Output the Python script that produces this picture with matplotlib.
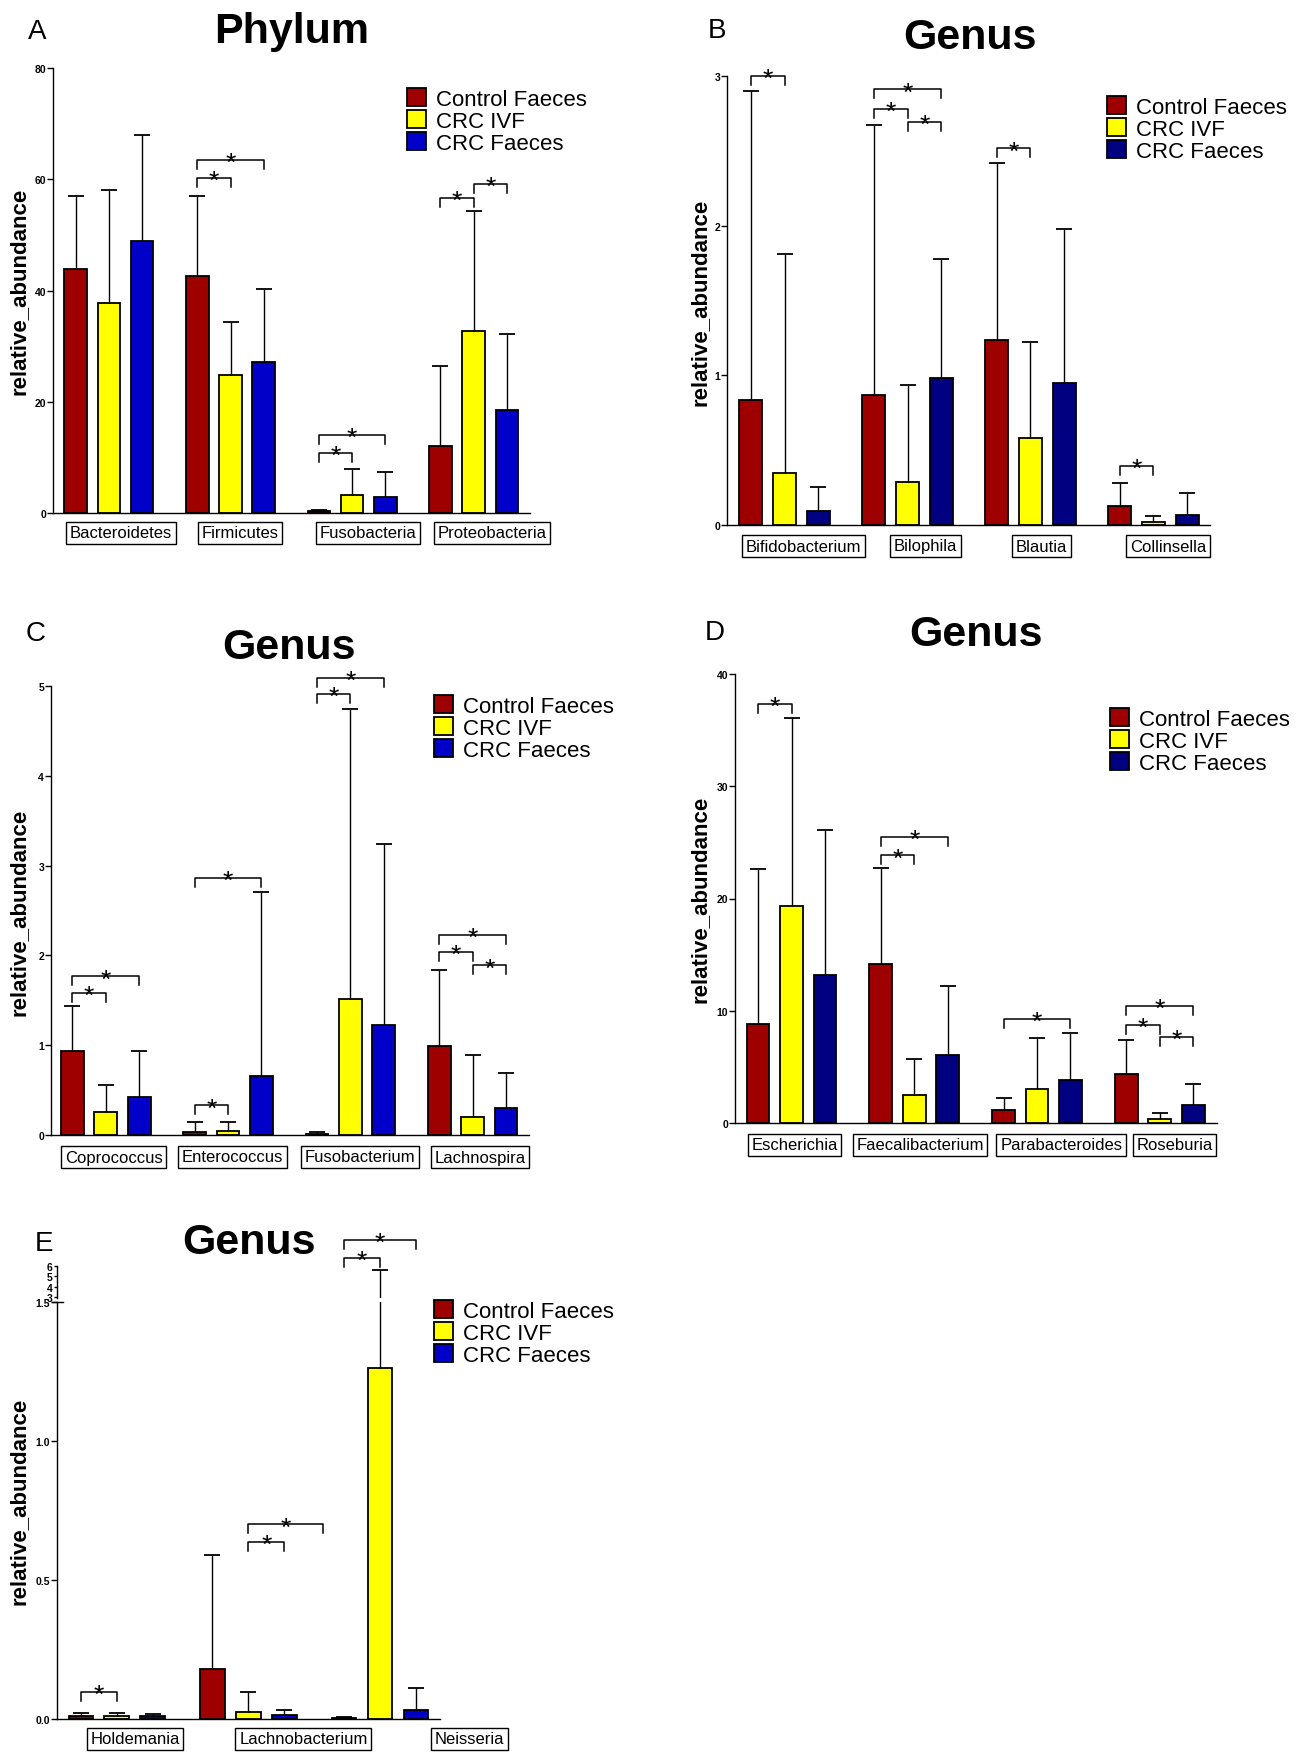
import matplotlib.pyplot as plt
import numpy as np
from matplotlib.lines import Line2D

plt.rcParams['font.family'] = ['Liberation Sans', 'DejaVu Sans']

series_names = ["Control Faeces", "CRC IVF", "CRC Faeces"]

# panel A - phylum (mean and SD)
phylum_cats = ["Bacteroidetes", "Firmicutes", "Fusobacteria", "Proteobacteria"]
phylum_ctrl = [43.8, 42.6, 0.3, 12.1]
phylum_ctrl_sd = [13.2, 14.4, 0.15, 14.4]
phylum_ivf = [37.7, 24.8, 3.2, 32.8]
phylum_ivf_sd = [20.4, 9.6, 4.8, 21.5]
phylum_crc = [48.9, 27.2, 2.8, 18.6]
phylum_crc_sd = [19.0, 13.0, 4.6, 13.6]
# (group, bar1, bar2, height)
phylum_sig = [(1, -1, 0, 60.3), (1, -1, 1, 63.5), (2, -1, 0, 10.8), (2, -1, 1, 14.0),
              (3, -1, 0, 56.6), (3, 0, 1, 59.1)]

# panel B
genus_b_cats = ["Bifidobacterium", "Bilophila", "Blautia", "Collinsella"]
genus_b_ctrl = [0.836, 0.868, 1.233, 0.126]
genus_b_ctrl_sd = [2.062, 1.806, 1.184, 0.156]
genus_b_ivf = [0.345, 0.289, 0.581, 0.022]
genus_b_ivf_sd = [1.464, 0.647, 0.644, 0.036]
genus_b_crc = [0.095, 0.985, 0.948, 0.07]
genus_b_crc_sd = [0.16, 0.795, 1.031, 0.146]
genus_b_sig = [(0, -1, 0, 3.0), (1, -1, 1, 2.91), (1, -1, 0, 2.78), (1, 0, 1, 2.694),
               (2, -1, 0, 2.516), (3, -1, 0, 0.394)]

# panel C
genus_c_cats = ["Coprococcus", "Enterococcus", "Fusobacterium", "Lachnospira"]
genus_c_ctrl = [0.94, 0.03, 0.012, 0.994]
genus_c_ctrl_sd = [0.496, 0.119, 0.021, 0.846]
genus_c_ivf = [0.26, 0.045, 1.51, 0.198]
genus_c_ivf_sd = [0.297, 0.095, 3.234, 0.693]
genus_c_crc = [0.425, 0.652, 1.221, 0.305]
genus_c_crc_sd = [0.507, 2.054, 2.022, 0.38]
genus_c_sig = [(0, -1, 0, 1.58), (0, -1, 1, 1.766), (1, -1, 0, 0.33), (1, -1, 1, 2.859),
               (2, -1, 0, 4.909), (2, -1, 1, 5.087), (3, -1, 0, 2.034), (3, -1, 1, 2.228),
               (3, 0, 1, 1.889)]

# panel D
genus_d_cats = ["Escherichia", "Faecalibacterium", "Parabacteroides", "Roseburia"]
genus_d_ctrl = [8.81, 14.19, 1.17, 4.34]
genus_d_ctrl_sd = [13.83, 8.51, 1.06, 3.01]
genus_d_ivf = [19.34, 2.46, 3.01, 0.32]
genus_d_ivf_sd = [16.77, 3.24, 4.57, 0.55]
genus_d_crc = [13.21, 6.09, 3.79, 1.62]
genus_d_crc_sd = [12.93, 6.12, 4.21, 1.88]
genus_d_sig = [(0, -1, 0, 37.31), (1, -1, 0, 23.84), (1, -1, 1, 25.49), (2, -1, 1, 9.3),
               (3, -1, 0, 8.74), (3, -1, 1, 10.43), (3, 0, 1, 7.68)]

# panel E (broken axis)
genus_e_cats = ["Holdemania", "Lachnobacterium", "Neisseria"]
genus_e_ctrl = [0.012, 0.181, 0.004]
genus_e_ctrl_sd = [0.009, 0.409, 0.002]
genus_e_ivf = [0.009, 0.025, 1.264]
genus_e_ivf_sd = [0.012, 0.072, 4.336]
genus_e_crc = [0.009, 0.015, 0.033]
genus_e_crc_sd = [0.008, 0.016, 0.078]
genus_e_sig_low = [(0, -1, 0, 0.0985), (1, 0, 1, 0.637), (1, 0, 2.07, 0.70)]
genus_e_sig_high = [(2, -1, 0, 6.75), (2, -1, 1, 8.5)]

RED = '#9E0000'
YELLOW = '#FFFF00'
BLUE = '#0000C8'
NAVY = '#000080'

W, H = 1305, 1756
fig = plt.figure(figsize=(W / 100, H / 100), dpi=100)


def px_rect(l, r, t, b):
    return [l / W, 1 - b / H, (r - l) / W, (b - t) / H]


def style_axis(ax, ticks, labels, tick_len=4):
    for s in ['top', 'right']:
        ax.spines[s].set_visible(False)
    ax.spines['left'].set_linewidth(1.0)
    ax.spines['bottom'].set_linewidth(1.0)
    ax.set_xticks([])
    ax.set_yticks(ticks)
    ax.set_yticklabels(labels, fontweight='bold', fontsize=7.5)
    ax.tick_params(axis='y', direction='out', length=tick_len, width=1, pad=1)


def draw_bars(ax, means, sds, colors, G):
    x0 = np.arange(len(means[0])) * G
    for k in range(3):
        x = x0 + (k - 1)
        ax.bar(x, means[k], width=0.68, color=colors[k], edgecolor='black',
               linewidth=1.3, label=series_names[k])
        eb = ax.errorbar(x, means[k], yerr=[np.zeros(len(x)), sds[k]], fmt='none',
                         ecolor='black', elinewidth=1.0, capsize=5.5, capthick=1.3)
        eb[1][0].set_visible(False)
    return x0


def bracket(ax, x1, x2, y):
    yp = ax.transData.transform([(0, y)])[0][1]
    y_low = ax.transData.inverted().transform([(0, yp - 9)])[0][1]
    ax.plot([x1, x1, x2, x2], [y_low, y, y, y_low], color='black', lw=1.1,
            clip_on=False, scalex=False, scaley=False)
    ax.annotate('*', xy=((x1 + x2) / 2, y), xytext=(0, -10), textcoords='offset pixels',
                ha='center', va='baseline', fontsize=19, annotation_clip=False)


def cat_labels(ax, x0, cats, shifts, off=20):
    for i, name in enumerate(cats):
        ax.annotate(name, xy=(x0[i] + shifts[i], 0), xycoords=('data', 'axes fraction'),
                    xytext=(0, -off), textcoords='offset pixels', ha='center', va='center',
                    fontsize=12, annotation_clip=False,
                    bbox=dict(boxstyle='square,pad=0.22', fc='white', ec='black', lw=1.0))


def legend(ax, lx, ly):
    ax.legend(loc='upper left', bbox_to_anchor=(lx / W, 1 - (ly - 11) / H),
              bbox_transform=fig.transFigure, frameon=False, fontsize=16,
              handlelength=0.86, handleheight=0.9, handletextpad=0.45,
              labelspacing=0.0, borderpad=0, borderaxespad=0)


def panel(rect, cats, means, sds, blue, G, a, b, ylim, ticks, labels, shifts, sig,
          leg_xy, off=20):
    ax = fig.add_axes(px_rect(*rect))
    x0 = draw_bars(ax, means, sds, [RED, YELLOW, blue], G)
    ax.set_xlim(-1 - a, x0[-1] + 1 + b)
    ax.set_ylim(*ylim)
    style_axis(ax, ticks, labels)
    for g, i1, i2, y in sig:
        bracket(ax, x0[g] + i1, x0[g] + i2, y)
    cat_labels(ax, x0, cats, shifts, off)
    legend(ax, *leg_xy)
    return ax


def texts(letter, lxy, title, txy, ylab_y, ylab_x):
    fig.text(lxy[0] / W, 1 - lxy[1] / H, letter, ha='center', va='center', fontsize=20)
    fig.text(txy[0] / W, 1 - txy[1] / H, title, ha='center', va='baseline',
             fontsize=31, fontweight='bold')
    fig.text(ylab_x / W, 1 - ylab_y / H, 'relative_abundance', rotation=90, ha='center',
             va='center', fontsize=16, fontweight='bold')


# A
panel((53, 530, 69, 514), phylum_cats,
      [phylum_ctrl, phylum_ivf, phylum_crc], [phylum_ctrl_sd, phylum_ivf_sd, phylum_crc_sd],
      BLUE, 3.655, 0.68, 0.69, (0, 80), [0, 20, 40, 60, 80], ['0', '20', '40', '60', '80'],
      [0.36, 0.28, 0.49, 0.54], phylum_sig, (407, 100))
texts('A', (37, 32), 'Phylum', (292, 43), 291, 19)

# B
panel((727, 1210, 77, 526), genus_b_cats,
      [genus_b_ctrl, genus_b_ivf, genus_b_crc], [genus_b_ctrl_sd, genus_b_ivf_sd, genus_b_crc_sd],
      NAVY, 3.65, 0.71, 0.68, (0, 3), [0, 1, 2, 3], ['0', '1', '2', '3'],
      [0.55, 0.54, 0.32, 0.43], genus_b_sig, (1107, 108), off=21)
texts('B', (717, 31), 'Genus', (970, 49), 302, 700)

# C
panel((51, 529, 687, 1136), genus_c_cats,
      [genus_c_ctrl, genus_c_ivf, genus_c_crc], [genus_c_ctrl_sd, genus_c_ivf_sd, genus_c_crc_sd],
      BLUE, 3.66, 0.64, 0.69, (0, 5), [0, 1, 2, 3, 4, 5], ['0', '1', '2', '3', '4', '5'],
      [0.24, 0.13, 0.28, 0.22], genus_c_sig, (434, 707), off=22)
texts('C', (36, 634), 'Genus', (289, 659), 912, 19)

# D
panel((735, 1217, 675, 1124), genus_d_cats,
      [genus_d_ctrl, genus_d_ivf, genus_d_crc], [genus_d_ctrl_sd, genus_d_ivf_sd, genus_d_crc_sd],
      NAVY, 3.67, 0.69, 0.71, (0, 40), [0, 10, 20, 30, 40], ['0', '10', '20', '30', '40'],
      [0.09, 0.17, 0.72, 0.44], genus_d_sig, (1110, 720), off=22)
texts('D', (715, 633), 'Genus', (976, 646), 899, 700)

# E - lower part 0..1.5 and upper part 3..6
e_means = [genus_e_ctrl, genus_e_ivf, genus_e_crc]
e_sds = [genus_e_ctrl_sd, genus_e_ivf_sd, genus_e_crc_sd]
ax_lo = panel((57, 440, 1303, 1720), genus_e_cats, e_means, e_sds,
              BLUE, 3.66, 0.66, 0.67, (0, 1.5), [0, 0.5, 1.0, 1.5], ['0.0', '0.5', '1.0', '1.5'],
              [0.51, 1.53, 2.48], genus_e_sig_low, (434, 1312))
ax_hi = fig.add_axes(px_rect(57, 440, 1267, 1299))
x0 = draw_bars(ax_hi, e_means, e_sds, [RED, YELLOW, BLUE], 3.66)
ax_hi.set_xlim(ax_lo.get_xlim())
ax_hi.set_ylim(2.9, 6)
style_axis(ax_hi, [3, 4, 5, 6], ['3', '4', '5', '6'], tick_len=2)
ax_hi.spines['bottom'].set_visible(False)
ax_hi.patch.set_visible(False)
for g, i1, i2, y in genus_e_sig_high:
    bracket(ax_hi, x0[g] + i1, x0[g] + i2, y)
fig.add_artist(Line2D([52 / W, 63 / W], [1 - 1303 / H] * 2, color='black', lw=1.0))
texts('E', (44, 1244), 'Genus', (249, 1254), 1501, 19)

fig.savefig('out.png', dpi=100)
